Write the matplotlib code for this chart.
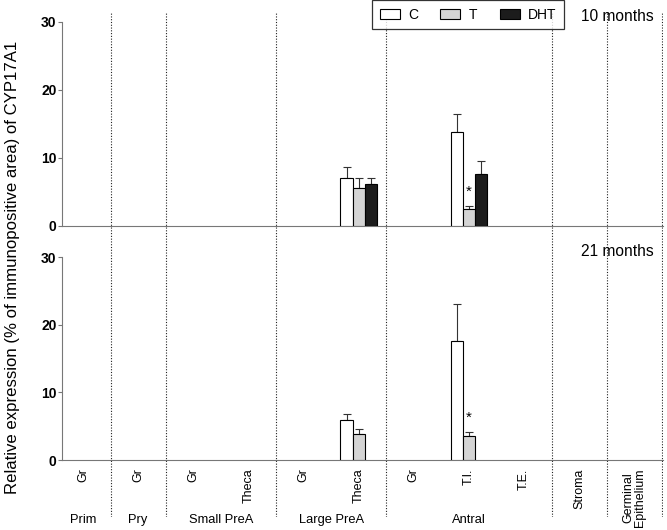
import numpy as np
import matplotlib.pyplot as plt

plt.rcParams['font.family'] = ['Liberation Sans', 'DejaVu Sans']

tick_labels = ['Gr', 'Gr', 'Gr', 'Theca', 'Gr', 'Theca', 'Gr', 'T.I.', 'T.E.', 'Stroma',
               'Germinal\nEpithelium']
groups = ['Prim', 'Pry', 'Small PreA', 'Large PreA', 'Antral']
group_pos = [0, 1, 2.5, 4.5, 7]
separators = [0.5, 1.5, 3.5, 5.5, 8.5, 9.5, 10.5]
treatments = ['C', 'T', 'DHT']
colors = ['white', '#d4d4d4', '#1c1c1c']

nan = np.nan
# 10 months
m10_mean = {'C':   [nan, nan, nan, nan, nan, 7.0, nan, 13.8, nan, nan, nan],
            'T':   [nan, nan, nan, nan, nan, 5.6, nan, 2.5, nan, nan, nan],
            'DHT': [nan, nan, nan, nan, nan, 6.2, nan, 7.6, nan, nan, nan]}
m10_sem = {'C':   [nan, nan, nan, nan, nan, 1.6, nan, 2.7, nan, nan, nan],
           'T':   [nan, nan, nan, nan, nan, 1.4, nan, 0.5, nan, nan, nan],
           'DHT': [nan, nan, nan, nan, nan, 0.9, nan, 2.0, nan, nan, nan]}
# 21 months
m21_mean = {'C':   [nan, nan, nan, nan, nan, 5.9, nan, 17.6, nan, nan, nan],
            'T':   [nan, nan, nan, nan, nan, 3.8, nan, 3.6, nan, nan, nan],
            'DHT': [nan] * 11}
m21_sem = {'C':   [nan, nan, nan, nan, nan, 0.9, nan, 5.4, nan, nan, nan],
           'T':   [nan, nan, nan, nan, nan, 0.8, nan, 0.6, nan, nan, nan],
           'DHT': [nan] * 11}
stars_10 = [(7, 'T')]
stars_21 = [(7, 'T')]

fig = plt.figure(figsize=(6.67, 5.30), dpi=100)
ax1 = fig.add_axes([0.093, 0.5736, 0.901, 0.385])
ax2 = fig.add_axes([0.093, 0.132, 0.901, 0.383])
over = fig.add_axes([0.093, 0.025, 0.901, 0.952], zorder=-1)

x = np.arange(len(tick_labels))
w = 0.22
xlim = (-0.38, 10.52)
grey = '#777777'


def draw(ax, means, sems, stars, title):
    for i, t in enumerate(treatments):
        pos = x + (i - 1) * w
        m = np.array(means[t])
        s = np.array(sems[t])
        ax.bar(pos, m, w, color=colors[i], edgecolor='black', linewidth=0.8, zorder=3,
               label=t)
        ok = ~np.isnan(m)
        ax.errorbar(pos[ok], m[ok], yerr=[np.zeros(ok.sum()), s[ok]], fmt='none',
                    ecolor='#333333', elinewidth=0.8, capsize=3, capthick=0.8, zorder=2)
    for cat, t in stars:
        i = treatments.index(t)
        top = means[t][cat] + sems[t][cat]
        ax.text(cat + (i - 1) * w, top + 1.0, '*', ha='center', va='bottom', fontsize=11)
    ax.set_xlim(*xlim)
    ax.set_ylim(0, 30)
    ax.set_yticks([0, 10, 20, 30])
    ax.tick_params(axis='y', length=3, width=0.8, color=grey, labelsize=10, pad=1)
    for lab in ax.get_yticklabels():
        lab.set_fontweight('bold')
    ax.spines['top'].set_visible(False)
    ax.spines['right'].set_visible(False)
    ax.spines['left'].set_color(grey)
    ax.spines['bottom'].set_color(grey)
    ax.patch.set_alpha(0)
    ax.text(0.985, 1.025, title, transform=ax.transAxes, ha='right', va='center',
            fontsize=11.2)


draw(ax1, m10_mean, m10_sem, stars_10, '10 months')
draw(ax2, m21_mean, m21_sem, stars_21, '21 months')

ax1.set_xticks([])
ax2.set_xticks(x)
ax2.set_xticklabels(tick_labels, rotation=90, va='top', fontsize=9, linespacing=0.9)
ax2.tick_params(axis='x', length=0, pad=6)

for g, p in zip(groups, group_pos):
    ax2.text(p, -0.295, g, transform=ax2.get_xaxis_transform(), ha='center', va='center',
             fontsize=9.3)

over.set_xlim(*xlim)
over.set_ylim(0, 1)
over.axis('off')
for s in separators:
    over.axvline(s, color='#222222', linestyle=(0, (1, 1.5)), linewidth=0.8)

leg = ax1.legend(loc='upper left', bbox_to_anchor=(372 / 667, 1.0),
                 bbox_transform=fig.transFigure, borderaxespad=0, ncol=3, frameon=True,
                 fancybox=False, edgecolor='black', fontsize=10, handlelength=1.45,
                 handleheight=0.8, handletextpad=0.6, columnspacing=1.6, borderpad=0.55)
leg.get_frame().set_linewidth(0.9)

fig.text(0.018, 0.496, 'Relative expression (% of immunopositive area) of CYP17A1',
         rotation=90, ha='center', va='center', fontsize=12.1)

fig.savefig('out.png', dpi=100)
